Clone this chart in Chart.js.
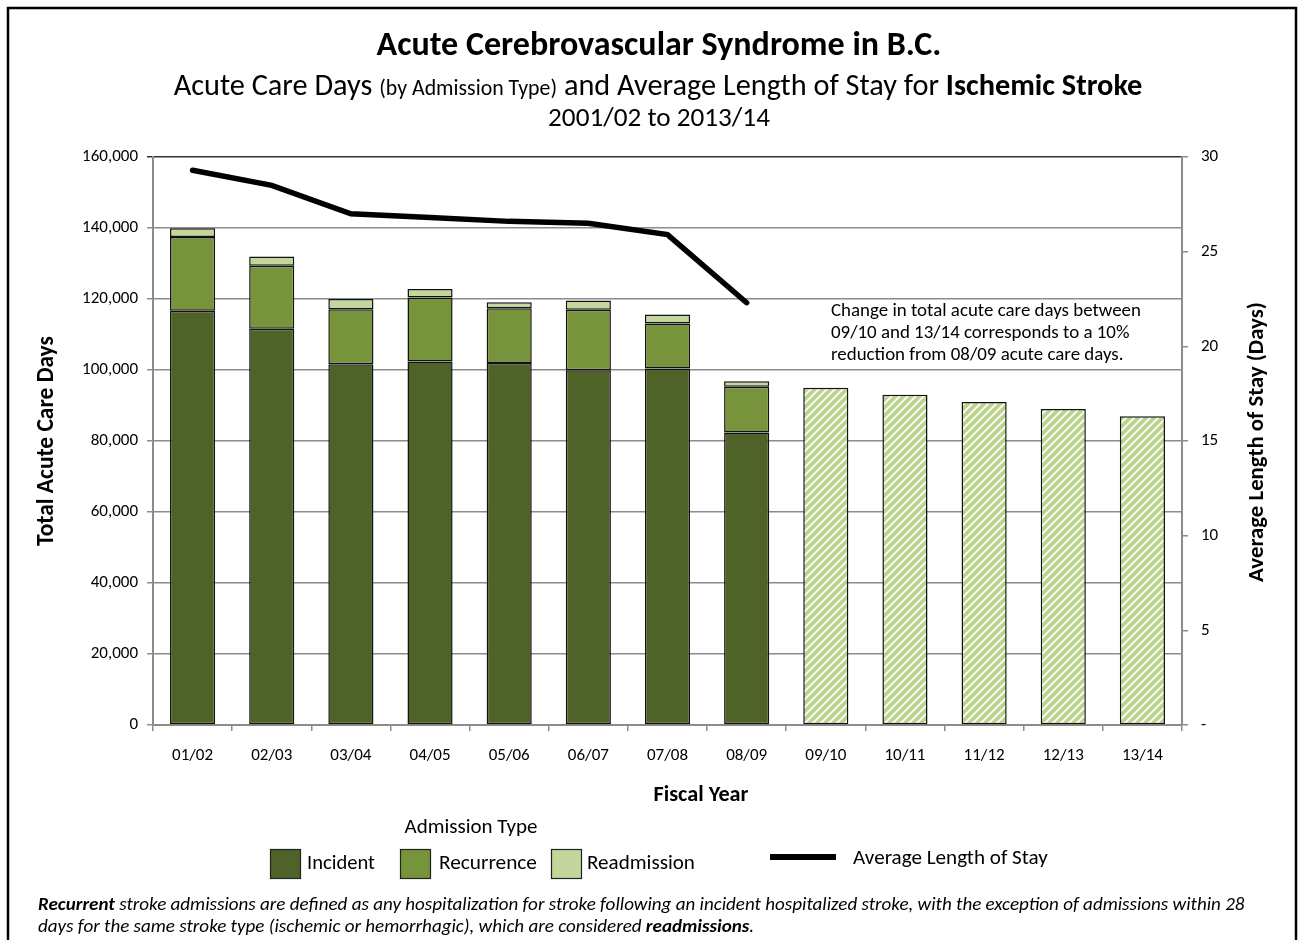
<!DOCTYPE html>
<html><head><meta charset="utf-8">
<script src="https://cdn.jsdelivr.net/npm/chart.js@4.4.1/dist/chart.umd.min.js"></script>
<style>html,body{margin:0;padding:0;background:#fff;overflow:hidden}#wrap{width:1299px;height:940px;position:relative}canvas{display:block}</style>
</head><body><div id="wrap"><canvas id="c" width="1299" height="940" style="width:1299px;height:940px"></canvas></div>
<script>
const categories = ['01/02','02/03','03/04','04/05','05/06','06/07','07/08','08/09','09/10','10/11','11/12','12/13','13/14'];
const incident    = [116700,111600,101600,102400,102000, 99900,100400, 82400,null,null,null,null,null];
const recurrence  = [ 20800, 17800, 15500, 18000, 15400, 17100, 12700, 12900,null,null,null,null,null];
const readmission = [  2400,  2600,  2900,  2400,  1700,  2600,  2500,  1500,null,null,null,null,null];
const projected   = [null,null,null,null,null,null,null,null, 95000, 93000, 91000, 89000, 87000];
const avgLengthOfStay = [29.3,28.5,27.0,26.8,26.6,26.5,25.9,22.3,null,null,null,null,null];
const leftTicks  = [0,20000,40000,60000,80000,100000,120000,140000,160000];
const rightTicks = [0,5,10,15,20,25,30];
const seriesNames = ['Incident','Recurrence','Readmission','Average Length of Stay'];
const colors = {incident:'#4f6228', recurrence:'#77933c', readmission:'#c3d69b', projected:'#c4d79b'};

const FF = "Carlito, Calibri, Lato, 'Liberation Sans', sans-serif";

function makePattern(ctx){
  const s = 8;
  const c = document.createElement('canvas'); c.width = s; c.height = s;
  const g = c.getContext('2d');
  g.fillStyle = '#bcd38e'; g.fillRect(0,0,s,s);
  g.strokeStyle = '#ffffff'; g.lineWidth = 1.8;
  g.beginPath();
  g.moveTo(-1, s+1); g.lineTo(s+1, -1);
  g.moveTo(-1, 1); g.lineTo(1, -1);
  g.moveTo(s-1, s+1); g.lineTo(s+1, s-1);
  g.stroke();
  return ctx.createPattern(c, 'repeat');
}

function fnt(p){ return `${p.style||'normal'} ${p.weight||'normal'} ${p.size}px ${FF}`; }
function measureParts(ctx, parts, k){
  let w = 0;
  parts.forEach(p => { ctx.font = fnt({...p, size:p.size*k}); w += ctx.measureText(p.t).width; });
  return w;
}
function fitK(ctx, parts, targetW){ return targetW / measureParts(ctx, parts, 1); }
function drawParts(ctx, parts, x, y, align, k, baseline){
  const w = measureParts(ctx, parts, k);
  let sx = align === 'center' ? x - w/2 : (align === 'right' ? x - w : x);
  ctx.textAlign = 'left'; ctx.textBaseline = baseline || 'middle'; ctx.fillStyle = '#000';
  parts.forEach(p => { ctx.font = fnt({...p, size:p.size*k}); ctx.fillText(p.t, sx, y); sx += ctx.measureText(p.t).width; });
}
function fitDraw(ctx, parts, x, y, align, targetW, baseline){
  const k = fitK(ctx, parts, targetW);
  drawParts(ctx, parts, x, y, align, k, baseline);
  return k;
}

const decor = {
  id:'decor',
  beforeDraw(chart){
    const ctx = chart.ctx; ctx.save(); ctx.fillStyle = '#fff'; ctx.fillRect(0,0,chart.width,chart.height); ctx.restore();
  },
  afterDraw(chart){
    const ctx = chart.ctx; ctx.save();
    ctx.strokeStyle = '#000'; ctx.lineWidth = 2.5; ctx.strokeRect(8, 8, 1288, 1000);
    fitDraw(ctx, [{t:'Acute Cerebrovascular Syndrome in B.C.', size:28, weight:'bold'}], 659, 46, 'center', 565);
    fitDraw(ctx, [
      {t:'Acute Care Days ', size:25},
      {t:'(by Admission Type)', size:18},
      {t:' and Average Length of Stay for ', size:25},
      {t:'Ischemic Stroke', size:25, weight:'bold'}], 658, 95, 'center', 969, 'alphabetic');
    fitDraw(ctx, [{t:'2001/02 to 2013/14', size:23}], 659, 119, 'center', 222);
    ctx.save(); ctx.translate(47, 441); ctx.rotate(-Math.PI/2);
    fitDraw(ctx, [{t:'Total Acute Care Days', size:18, weight:'bold'}], 0, 0, 'center', 210);
    ctx.restore();
    ctx.save(); ctx.translate(1257, 442); ctx.rotate(-Math.PI/2);
    fitDraw(ctx, [{t:'Average Length of Stay (Days)', size:18, weight:'bold'}], 0, 0, 'center', 280);
    ctx.restore();
    fitDraw(ctx, [{t:'Fiscal Year', size:18, weight:'bold'}], 701, 795, 'center', 95);
    const ann = ['Change in total acute care days between','09/10 and 13/14 corresponds to a 10%','reduction from 08/09 acute care days.'];
    const ka = fitK(ctx, [{t:ann[0], size:15}], 310);
    ann.forEach((t,i) => drawParts(ctx, [{t, size:15}], 831, 311 + i*22, 'left', ka));
    fitDraw(ctx, [{t:'Admission Type', size:18}], 471, 828, 'center', 133);
    const items = [
      {name:seriesNames[0], c:colors.incident, bx:270, tx:307, tw:68},
      {name:seriesNames[1], c:colors.recurrence, bx:400, tx:439, tw:98},
      {name:seriesNames[2], c:colors.readmission, bx:551, tx:587, tw:108}];
    items.forEach(it => {
      ctx.fillStyle = it.c; ctx.fillRect(it.bx, 849, 30, 29);
      ctx.strokeStyle = '#222'; ctx.lineWidth = 1.2; ctx.strokeRect(it.bx+0.5, 849.5, 30, 29);
      fitDraw(ctx, [{t:it.name, size:19}], it.tx, 864, 'left', it.tw);
    });
    ctx.strokeStyle = '#000'; ctx.lineWidth = 6; ctx.beginPath(); ctx.moveTo(770, 857); ctx.lineTo(836, 857); ctx.stroke();
    fitDraw(ctx, [{t:seriesNames[3], size:19}], 853, 859, 'left', 195);
    const l1 = [{t:'Recurrent', size:15, weight:'bold', style:'italic'},
      {t:' stroke admissions are defined as any hospitalization for stroke following an incident hospitalized stroke, with the exception of admissions within 28', size:15, style:'italic'}];
    const kf = fitDraw(ctx, l1, 38, 905, 'left', 1207);
    drawParts(ctx, [{t:'days for the same stroke type (ischemic or hemorrhagic), which are considered ', size:15, style:'italic'},
      {t:'readmissions', size:15, weight:'bold', style:'italic'},
      {t:'.', size:15, style:'italic'}], 38, 927, 'left', kf);
    ctx.restore();
  }
};

const canvas = document.getElementById('c');
const ctx0 = canvas.getContext('2d');
const hatch = makePattern(ctx0);
const GRID = '#8c8c8c';
const tickFont = {family:FF, size:17};

new Chart(canvas, {
  data: {
    labels: categories,
    datasets: [
      {type:'line', label:seriesNames[3], data:avgLengthOfStay, yAxisID:'y1', borderColor:'#000', borderWidth:5.5,
       pointRadius:0, borderCapStyle:'round', borderJoinStyle:'miter', spanGaps:false, order:0, tension:0},
      {type:'bar', label:seriesNames[0], data:incident, backgroundColor:colors.incident, borderColor:'#111', borderWidth:1.5, borderSkipped:false, stack:'s', order:1},
      {type:'bar', label:seriesNames[1], data:recurrence, backgroundColor:colors.recurrence, borderColor:'#111', borderWidth:1.5, borderSkipped:false, stack:'s', order:1},
      {type:'bar', label:seriesNames[2], data:readmission, backgroundColor:colors.readmission, borderColor:'#111', borderWidth:1.5, borderSkipped:false, stack:'s', order:1},
      {type:'bar', label:'Projected', data:projected, backgroundColor:hatch, borderColor:'#111', borderWidth:1.5, borderSkipped:false, stack:'s', order:1}
    ]
  },
  options: {
    responsive:false, animation:false, devicePixelRatio:1,
    layout:{padding:{top:157, bottom:0, left:0, right:0}},
    datasets:{bar:{categoryPercentage:1, barPercentage:0.57}},
    plugins:{legend:{display:false}, title:{display:false}, tooltip:{enabled:false}},
    scales:{
      x:{stacked:true, offset:true,
         grid:{display:true, drawOnChartArea:false, drawTicks:true, tickLength:6, color:GRID, lineWidth:1.5, offset:true},
         border:{display:true, color:GRID, width:2},
         ticks:{font:tickFont, color:'#000', padding:15, maxRotation:0},
         afterFit(s){ s.height = 940 - 725; }},
      y:{stacked:true, position:'left', min:0, max:leftTicks[leftTicks.length-1],
         afterBuildTicks(s){ s.ticks = leftTicks.map(v => ({value:v})); },
         grid:{color:c => c.tick && c.tick.value === 160000 ? '#333' : GRID, lineWidth:1.5, tickLength:6},
         border:{display:true, color:GRID, width:2},
         ticks:{font:tickFont, color:'#000', padding:9, callback:v => v.toLocaleString('en-US')},
         afterFit(s){ s.width = 153; }},
      y1:{position:'right', min:0, max:rightTicks[rightTicks.length-1],
         afterBuildTicks(s){ s.ticks = rightTicks.map(v => ({value:v})); },
         grid:{drawOnChartArea:false, color:GRID, lineWidth:1.5, tickLength:6},
         border:{display:true, color:GRID, width:2},
         ticks:{font:tickFont, color:'#000', padding:13, callback:v => v === 0 ? '-' : String(v)},
         afterFit(s){ s.width = 1299 - 1182; }}
    }
  },
  plugins:[decor]
});
</script></body></html>
